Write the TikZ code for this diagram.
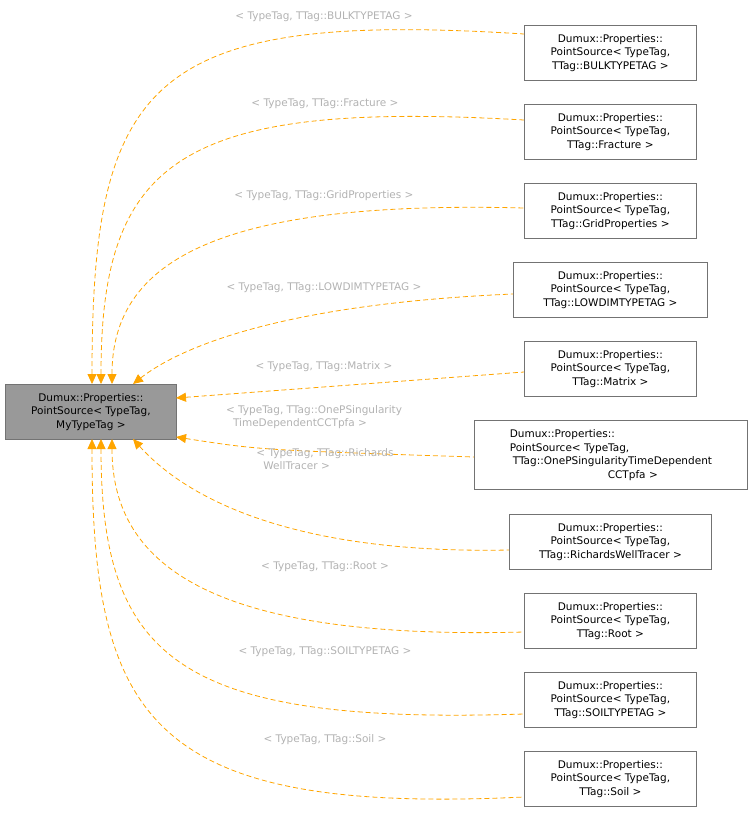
\documentclass[tikz,border=0pt]{standalone}
\usepackage{fontspec}
\setmainfont{DejaVu Sans}
\usetikzlibrary{arrows.meta}
\definecolor{edgeor}{HTML}{FFA500}
\begin{document}
\begin{tikzpicture}[x=1pt,y=-1pt,
  box/.style={draw=black!55,line width=0.8pt,font=\fontsize{10.5}{13.5}\selectfont,align=center,inner sep=0pt,anchor=north west},
  lbl/.style={text=black!30,font=\fontsize{10.5}{13.5}\selectfont,align=center},
  edge/.style={draw=edgeor,dashed,dash pattern=on 5pt off 3pt,line width=0.8pt,{Triangle[length=10pt,width=9pt,fill=edgeor]}-}]
\useasboundingbox (0,0) rectangle (752,815);
\node[box,fill=black!40,minimum width=171pt,minimum height=55pt] (m) at (5,384) {Dumux::Properties::\\PointSource< TypeTag,\\ MyTypeTag >};
\node[box,minimum width=172pt,minimum height=55pt] (n1) at (524,25) {Dumux::Properties::\\PointSource< TypeTag,\\ TTag::BULKTYPETAG >};
\node[box,minimum width=172pt,minimum height=55pt] (n2) at (524,104) {Dumux::Properties::\\PointSource< TypeTag,\\ TTag::Fracture >};
\node[box,minimum width=172pt,minimum height=55pt] (n3) at (524,183) {Dumux::Properties::\\PointSource< TypeTag,\\ TTag::GridProperties >};
\node[box,minimum width=194pt,minimum height=55pt] (n4) at (513,262) {Dumux::Properties::\\PointSource< TypeTag,\\ TTag::LOWDIMTYPETAG >};
\node[box,minimum width=172pt,minimum height=55pt] (n5) at (524,341) {Dumux::Properties::\\PointSource< TypeTag,\\ TTag::Matrix >};
\node[box,minimum width=273pt,minimum height=69pt,align=left] (n6) at (474,420) {Dumux::Properties::\\PointSource< TypeTag,\\\hspace*{3pt}TTag::OnePSingularityTimeDependent\\\hspace*{98pt}CCTpfa >};
\node[box,minimum width=202pt,minimum height=55pt] (n7) at (509,514) {Dumux::Properties::\\PointSource< TypeTag,\\ TTag::RichardsWellTracer >};
\node[box,minimum width=172pt,minimum height=55pt] (n8) at (524,593) {Dumux::Properties::\\PointSource< TypeTag,\\ TTag::Root >};
\node[box,minimum width=172pt,minimum height=55pt] (n9) at (524,672) {Dumux::Properties::\\PointSource< TypeTag,\\ TTag::SOILTYPETAG >};
\node[box,minimum width=172pt,minimum height=55pt] (n10) at (524,751) {Dumux::Properties::\\PointSource< TypeTag,\\ TTag::Soil >};
\coordinate (e1) at (92,384); \coordinate (e2) at (101,384); \coordinate (e3) at (112,384); \coordinate (e4) at (133,384);
\coordinate (e5) at (176,398); \coordinate (e6) at (176,437);
\coordinate (e7) at (133,439); \coordinate (e8) at (112,439); \coordinate (e9) at (101,439); \coordinate (e10) at (92,439);
\path[edge] (e1) .. controls (92,80) and (150,10) .. (n1.west |- 0,34);
\path[edge] (e2) .. controls (101,160) and (180,100) .. (n2.west |- 0,120);
\path[edge] (e3) .. controls (112,260) and (220,200) .. (n3.west |- 0,208);
\path[edge] (e4) .. controls (170,355) and (260,305) .. (n4.west |- 0,294);
\path[edge] (e5) -- (n5.west |- 0,372);
\path[edge] (e6) .. controls (260,450) .. (n6.west |- 0,457);
\path[edge] (e7) .. controls (170,480) and (260,555) .. (n7.west |- 0,550);
\path[edge] (e8) .. controls (112,570) and (220,640) .. (n8.west |- 0,632);
\path[edge] (e9) .. controls (101,660) and (180,725) .. (n9.west |- 0,714);
\path[edge] (e10) .. controls (92,720) and (150,815) .. (n10.west |- 0,797);
\node[lbl] (l1) at (324,17) {< TypeTag, TTag::BULKTYPETAG >};
\node[lbl] (l2) at (325,104) {< TypeTag, TTag::Fracture >};
\node[lbl] (l3) at (324,196) {< TypeTag, TTag::GridProperties >};
\node[lbl] (l4) at (324,288) {< TypeTag, TTag::LOWDIMTYPETAG >};
\node[lbl] (l5) at (324,367) {< TypeTag, TTag::Matrix >};
\node[lbl,align=left] (l6) at (314,417) {< TypeTag, TTag::OnePSingularity\\\hspace*{7pt}TimeDependentCCTpfa >};
\node[lbl,align=left] (l7) at (325,459) {< TypeTag, TTag::Richards\\\hspace*{7pt}WellTracer >};
\node[lbl] (l8) at (325,567) {< TypeTag, TTag::Root >};
\node[lbl] (l9) at (325,652) {< TypeTag, TTag::SOILTYPETAG >};
\node[lbl] (l10) at (325,740) {< TypeTag, TTag::Soil >};
\end{tikzpicture}
\end{document}
